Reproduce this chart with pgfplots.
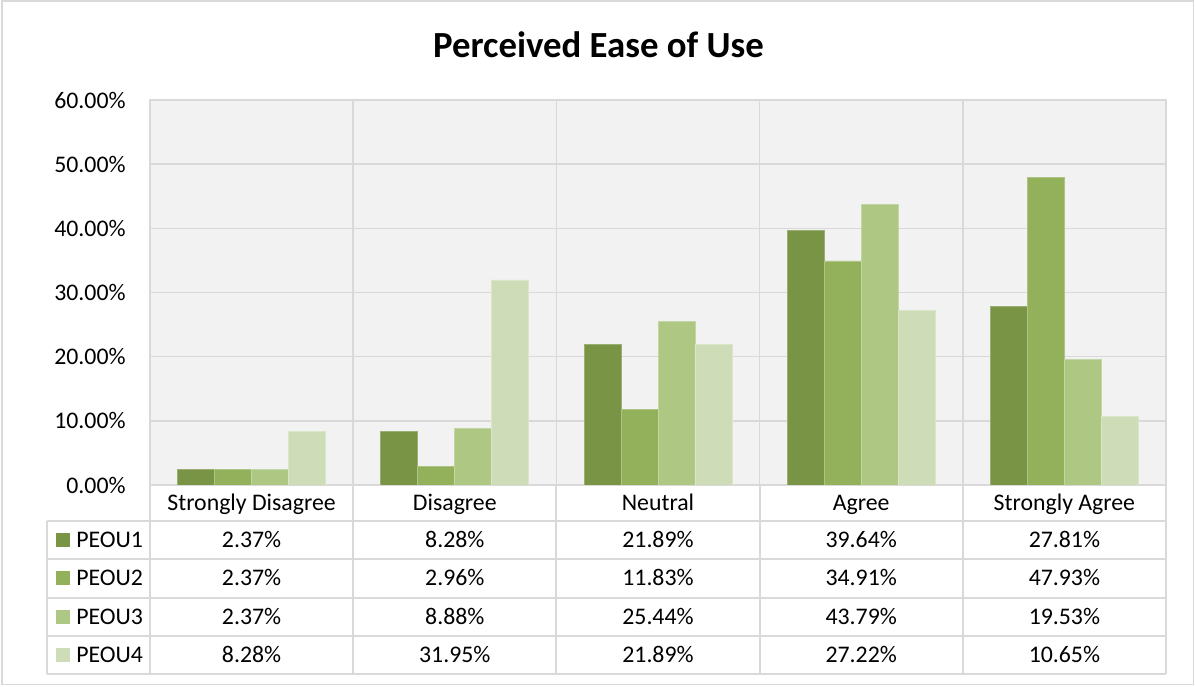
\documentclass[border=0pt]{standalone}
\usepackage{pgfplots}
\usepackage{pgfplotstable}
\pgfplotsset{compat=1.18}
\usepackage{fontspec}
\setmainfont{Carlito}

\definecolor{peouA}{HTML}{7A9446}
\definecolor{peouB}{HTML}{93B05A}
\definecolor{peouC}{HTML}{AEC884}
\definecolor{peouD}{HTML}{CEDDB8}
\definecolor{gridgray}{HTML}{D9D9D9}
\definecolor{plotbg}{HTML}{F2F2F2}

\pgfkeys{/pgf/number format/assume math mode=true}

% share of responses (%) per category, one column per item
\pgfplotstableread{
x p1 p2 p3 p4
0 2.37 2.37 2.37 8.28
1 8.28 2.96 8.88 31.95
2 21.89 11.83 25.44 21.89
3 39.64 34.91 43.79 27.22
4 27.81 47.93 19.53 10.65
}\peou

\begin{document}
\begin{tikzpicture}[x=0.5pt,y=0.5pt]
\fontsize{11.9}{14}\selectfont
\path[use as bounding box] (0,0) rectangle (1195,686);
\draw[gridgray, line width=0.75pt] (2,1.5) rectangle (1193.5,685);

\node[anchor=base, font=\fontsize{18.4}{22}\selectfont\bfseries] at (598.5,628) {Perceived Ease of Use};

\begin{axis}[
  at={(75pt,100.5pt)}, anchor=south west,
  scale only axis, width=508pt, height=192.5pt,
  ybar,
  xmin=-0.5, xmax=4.5, ymin=0, ymax=60,
  xtick={0,...,4},
  xticklabels={Strongly Disagree, Disagree, Neutral, Agree, Strongly Agree},
  minor xtick={-0.5,0.5,...,4.5},
  ytick={0,10,...,60},
  yticklabel={\pgfmathprintnumber[fixed,fixed zerofill,precision=2]{\tick}\%},
  major tick length=0pt, minor tick length=0pt,
  ymajorgrids, xminorgrids,
  grid style={gridgray, line width=0.75pt},
  minor grid style={gridgray, line width=0.75pt},
  axis line style={gridgray, line width=0.75pt},
  axis background/.style={fill=plotbg},
  tick label style={font=\fontsize{11.9}{14}\selectfont, text=black},
  xticklabel style={anchor=base, inner sep=0pt, yshift=-12.75pt},
  yticklabel style={anchor=east, inner sep=0pt, xshift=-12pt},
  bar width=0.182,
]
\addplot[fill=peouA, draw=peouA!75!white, line width=0.4pt, bar shift=-0.273] table[x=x,y=p1]{\peou};
\addplot[fill=peouB, draw=peouB!75!white, line width=0.4pt, bar shift=-0.091] table[x=x,y=p2]{\peou};
\addplot[fill=peouC, draw=peouC!75!white, line width=0.4pt, bar shift=0.091] table[x=x,y=p3]{\peou};
\addplot[fill=peouD, draw=peouD!75!white, line width=0.4pt, bar shift=0.273] table[x=x,y=p4]{\peou};
\end{axis}

% data table under the plot
\begin{scope}[gridgray, line width=1pt]
  \foreach \yy in {165,127,88,50,12} \draw (47,\yy) -- (1166,\yy);
  \draw (47,165) -- (47,12);
  \foreach \xx in {150,353.2,556.4,759.6,962.8,1166} \draw (\xx,201) -- (\xx,12);
\end{scope}

\foreach \s/\yb/\col/\name in {1/138.5/peouA/PEOU1, 2/100/peouB/PEOU2, 3/61.5/peouC/PEOU3, 4/23.5/peouD/PEOU4}{
  \fill[\col] (56,\yb+0.5) rectangle (70,\yb+14.5);
  \node[anchor=base west, inner sep=0pt] at (76,\yb) {\name};
  \foreach \c in {0,...,4}{
    \pgfplotstablegetelem{\c}{p\s}\of\peou
    \node[anchor=base, inner sep=0pt] at ({251.6+203.2*\c},\yb)
      {\pgfmathprintnumber[fixed,fixed zerofill,precision=2]{\pgfplotsretval}\%};
  }
}
\end{tikzpicture}
\end{document}
